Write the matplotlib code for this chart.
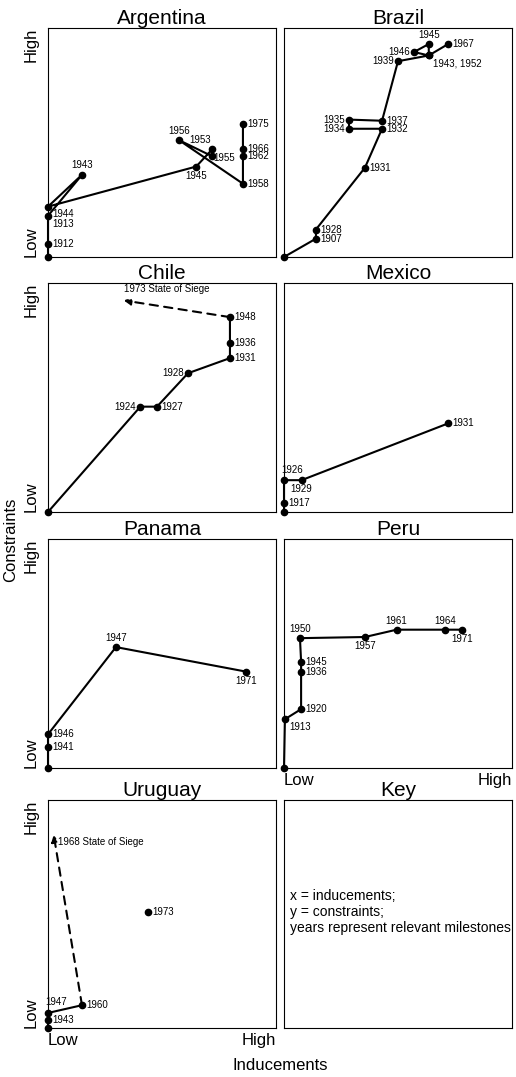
import matplotlib
matplotlib.use("Agg")
import matplotlib.pyplot as plt

plt.rcParams['font.family'] = ['Liberation Sans', 'DejaVu Sans']

# ---- data (fractions of axis: inducements x, constraints y) ----
arg_years = ["", "1912", "1913", "1943", "1944", "1945", "1953", "1955", "1956", "1958", "1962", "1966", "1975"]
arg_x = [0, 0, 0, 0.15, 0, 0.65, 0.72, 0.72, 0.575, 0.855, 0.855, 0.855, 0.855]
arg_y = [0, 0.057, 0.18, 0.36, 0.22, 0.395, 0.47, 0.44, 0.51, 0.32, 0.44, 0.47, 0.58]
arg_pos = ["", "r", "br", "a", "br", "b", "al", "rs", "a", "r", "r", "r", "r"]

bra_years = ["", "1907", "1928", "1931", "1932", "1934", "1935", "1937", "1939", "1943, 1952", "1945", "1946", "", "1967"]
bra_x = [0, 0.14, 0.14, 0.355, 0.43, 0.285, 0.285, 0.43, 0.5, 0.635, 0.635, 0.57, 0.635, 0.72]
bra_y = [0, 0.08, 0.12, 0.39, 0.56, 0.56, 0.60, 0.595, 0.855, 0.88, 0.93, 0.895, 0.88, 0.93]
bra_pos = ["", "r", "r", "r", "r", "l", "l", "r", "l", "br", "a", "l", "", "r"]

chi_years = ["", "1924", "1927", "1928", "1931", "1936", "1948"]
chi_x = [0, 0.405, 0.478, 0.614, 0.798, 0.798, 0.798]
chi_y = [0, 0.46, 0.46, 0.606, 0.672, 0.74, 0.851]
chi_pos = ["", "l", "r", "l", "r", "r", "r"]
chi_siege = ("1973 State of Siege", 0.332, 0.924)

mex_years = ["", "1917", "1926", "1929", "1931"]
mex_x = [0, 0, 0, 0.077, 0.72]
mex_y = [0, 0.04, 0.139, 0.139, 0.387]
mex_pos = ["", "r", "ar", "b", "r"]

pan_years = ["", "1941", "1946", "1947", "1971"]
pan_x = [0, 0, 0, 0.298, 0.868]
pan_y = [0, 0.09, 0.147, 0.528, 0.421]
pan_pos = ["", "r", "r", "a", "b"]

per_years = ["", "1913", "1920", "1936", "1945", "1950", "1957", "1961", "1964", "1971"]
per_x = [0, 0.004, 0.075, 0.075, 0.075, 0.07, 0.355, 0.494, 0.706, 0.782]
per_y = [0, 0.213, 0.257, 0.421, 0.465, 0.567, 0.572, 0.604, 0.604, 0.604]
per_pos = ["", "br", "r", "r", "r", "a", "b", "a", "a", "b"]

uru_years = ["", "1943", "1947", "1960"]
uru_x = [0, 0, 0, 0.149]
uru_y = [0, 0.037, 0.066, 0.10]
uru_pos = ["", "r", "ar", "r"]
uru_siege = ("1968 State of Siege", 0.025, 0.847)
uru_extra = ("1973", 0.44, 0.51)

key_lines = ["x = inducements;", "y = constraints;", "years represent relevant milestones"]

W, H = 516, 1077
fig = plt.figure(figsize=(W / 100, H / 100), dpi=100)

cols = [(48, 228), (284, 228)]
rows = [(28, 257), (283, 512), (539, 768), (800, 1028)]

def mkax(r, c):
    x0, w = cols[c]
    t, b = rows[r]
    ax = fig.add_axes([x0 / W, 1 - b / H, w / W, (b - t) / H])
    ax.set_xlim(0, 1)
    ax.set_ylim(0, 1)
    ax.set_xticks([])
    ax.set_yticks([])
    for s in ax.spines.values():
        s.set_linewidth(0.8)
    return ax

offs = {"r": ((3, 0), "left", "center"), "rs": ((1, -1), "left", "center"),
        "l": ((-3, 0), "right", "center"),
        "a": ((0, 3), "center", "bottom"), "b": ((0, -3), "center", "top"),
        "br": ((3, -2), "left", "top"), "al": ((-1, 3), "right", "bottom"),
        "ar": ((-2, 4), "left", "bottom")}

def ylab(ax):
    ax.text(-0.04, 1, "High", rotation=90, ha="right", va="top", fontsize=12, transform=ax.transAxes)
    ax.text(-0.04, 0, "Low", rotation=90, ha="right", va="bottom", fontsize=12, transform=ax.transAxes)

def xlab(ax):
    ax.text(0, -0.02, "Low", ha="left", va="top", fontsize=12, transform=ax.transAxes)
    ax.text(1, -0.02, "High", ha="right", va="top", fontsize=12, transform=ax.transAxes)

def draw(ax, title, years, xs, ys, pos):
    ax.set_title(title, fontsize=15, pad=2)
    ax.plot(xs, ys, color="black", lw=1.5, marker="o", ms=4.5, clip_on=False, zorder=3)
    for yr, x, y, p in zip(years, xs, ys, pos):
        if yr and p:
            o, ha, va = offs[p]
            ax.annotate(yr, (x, y), xytext=o, textcoords="offset points",
                        ha=ha, va=va, fontsize=7)

def siege(ax, start, s):
    txt, x, y = s
    ax.annotate("", xy=(x, y), xytext=start,
                arrowprops=dict(arrowstyle="-|>", linestyle=(0, (4, 3)), lw=1.5,
                                color="black", mutation_scale=10, shrinkA=0, shrinkB=0))

ax = mkax(0, 0); draw(ax, "Argentina", arg_years, arg_x, arg_y, arg_pos); ylab(ax)
ax = mkax(0, 1); draw(ax, "Brazil", bra_years, bra_x, bra_y, bra_pos)

ax = mkax(1, 0); draw(ax, "Chile", chi_years, chi_x, chi_y, chi_pos); ylab(ax)
siege(ax, (chi_x[-1], chi_y[-1]), chi_siege)
ax.text(chi_siege[1], chi_siege[2] + 0.03, chi_siege[0], fontsize=7, ha="left", va="bottom")
ax = mkax(1, 1); draw(ax, "Mexico", mex_years, mex_x, mex_y, mex_pos)

ax = mkax(2, 0); draw(ax, "Panama", pan_years, pan_x, pan_y, pan_pos); ylab(ax)
ax = mkax(2, 1); draw(ax, "Peru", per_years, per_x, per_y, per_pos); xlab(ax)

ax = mkax(3, 0); draw(ax, "Uruguay", uru_years, uru_x, uru_y, uru_pos); ylab(ax); xlab(ax)
siege(ax, (uru_x[-1], uru_y[-1]), uru_siege)
ax.annotate(uru_siege[0], (uru_siege[1], uru_siege[2] - 0.03), xytext=(3, 0),
            textcoords="offset points", ha="left", va="center", fontsize=7)
ax.plot([uru_extra[1]], [uru_extra[2]], "o", color="black", ms=4.5)
ax.annotate(uru_extra[0], (uru_extra[1], uru_extra[2]), xytext=(3, 0),
            textcoords="offset points", ha="left", va="center", fontsize=7)

ax = mkax(3, 1)
ax.set_title("Key", fontsize=15, pad=2)
for line, y in zip(key_lines, [0.58, 0.51, 0.44]):
    ax.text(0.026, y, line, fontsize=10, ha="left", va="center")

fig.text(11 / W, 1 - 540 / H, "Constraints", rotation=90, ha="center", va="center", fontsize=12)
fig.text(280 / W, 1 - 1066 / H, "Inducements", ha="center", va="center", fontsize=12)

fig.savefig("out.png", dpi=100)
